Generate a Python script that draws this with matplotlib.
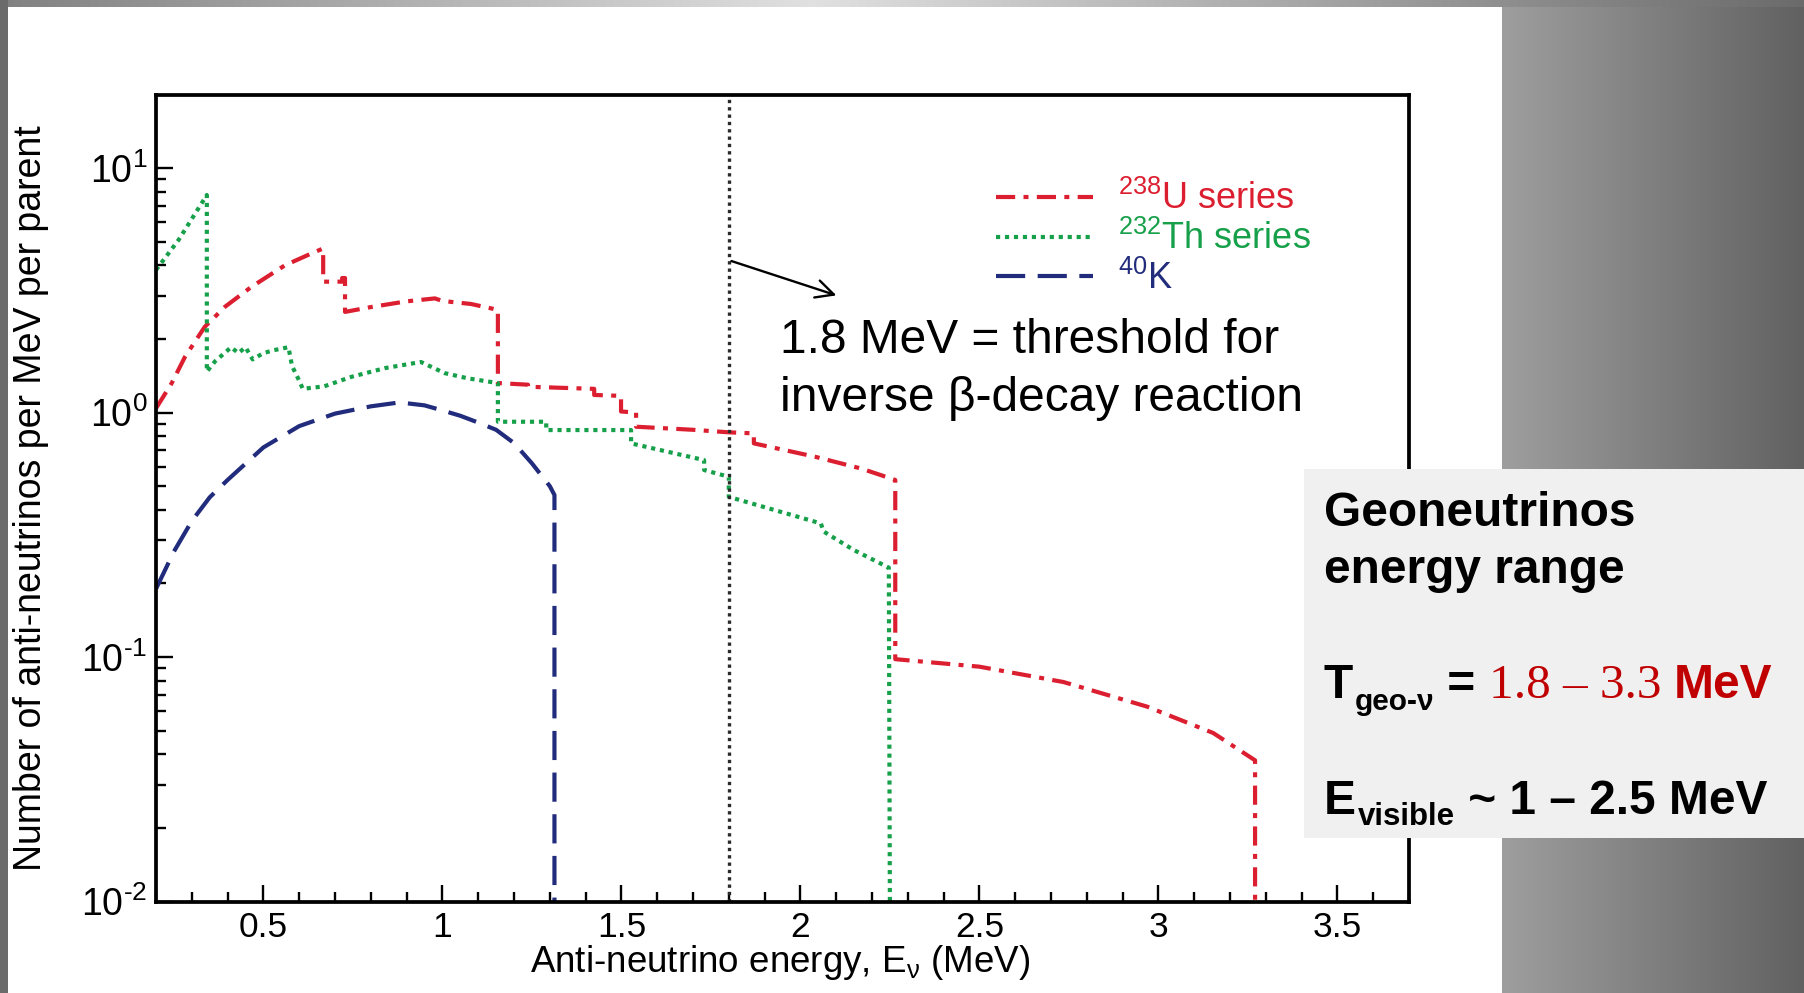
import numpy as np
import matplotlib
matplotlib.use("Agg")
import matplotlib.pyplot as plt
from matplotlib.ticker import MultipleLocator, FormatStrFormatter, FuncFormatter
from matplotlib.lines import Line2D
from matplotlib.patches import Rectangle

plt.rcParams['font.family'] = ['Liberation Sans', 'DejaVu Sans']
plt.rcParams['mathtext.fontset'] = 'custom'
plt.rcParams['mathtext.rm'] = 'Liberation Sans'
plt.rcParams['mathtext.it'] = 'Liberation Sans:italic'
plt.rcParams['mathtext.bf'] = 'Liberation Sans:bold'

# spectra (MeV, anti-neutrinos per MeV per parent)
u_x = [0.2, 0.244, 0.281, 0.336, 0.393, 0.467, 0.56, 0.635, 0.667, 0.667, 0.72, 0.72, 0.728,
       0.728, 0.8, 0.9, 0.979, 1.0, 1.08, 1.155, 1.155, 1.239, 1.239, 1.424, 1.424, 1.499,
       1.499, 1.541, 1.541, 1.7, 1.8, 1.87, 1.87, 2.04, 2.17, 2.265, 2.265, 2.5, 2.735,
       2.968, 3.153, 3.27, 3.27]
u_y = [1.04, 1.32, 1.69, 2.24, 2.71, 3.27, 4.0, 4.48, 4.69, 3.43, 3.43, 3.55, 3.55,
       2.58, 2.7, 2.85, 2.93, 2.86, 2.78, 2.63, 1.32, 1.30, 1.275, 1.25, 1.18, 1.17,
       1.01, 1.0, 0.875, 0.85, 0.83, 0.822, 0.748, 0.66, 0.59, 0.53, 0.098, 0.0913, 0.079,
       0.0627, 0.0489, 0.0378, 0.009]

th_x = [0.2, 0.263, 0.342, 0.342, 0.365, 0.41, 0.43, 0.45, 0.47, 0.5, 0.53, 0.57, 0.58,
        0.6, 0.61, 0.67, 0.746, 0.84, 0.94, 1.006, 1.071, 1.155, 1.155, 1.29, 1.29, 1.527,
        1.527, 1.731, 1.731, 1.8, 1.8, 2.057, 2.065, 2.149, 2.247, 2.25]
th_y = [3.83, 5.08, 7.76, 1.47, 1.62, 1.85, 1.75, 1.85, 1.65, 1.75, 1.8, 1.85, 1.55,
        1.35, 1.25, 1.28, 1.40, 1.52, 1.61, 1.45, 1.38, 1.32, 0.917, 0.917, 0.848, 0.848,
        0.748, 0.639, 0.582, 0.546, 0.452, 0.352, 0.326, 0.274, 0.232, 0.009]

k_x = [0.2, 0.25, 0.3, 0.35, 0.4, 0.5, 0.6, 0.7, 0.8, 0.88, 0.95, 1.0, 1.05, 1.1, 1.15,
       1.2, 1.25, 1.3, 1.313, 1.313]
k_y = [0.19, 0.27, 0.36, 0.45, 0.53, 0.72, 0.88, 0.99, 1.06, 1.10, 1.07, 1.02, 0.97, 0.91,
       0.85, 0.75, 0.62, 0.5, 0.46, 0.009]

threshold = 1.8
series_labels = [r'$^{238}$U series', r'$^{232}$Th series', r'$^{40}$K']

W, H = 1804, 993
fig = plt.figure(figsize=(W / 100, H / 100), dpi=100)

# slide background: grey frame with a gradient, white panel
bg = np.ones((H, W, 3))
cols = np.arange(W)
right = np.clip((cols - 1502) / (W - 1502), 0, 1)
bg[:, :, :] = (0.62 - 0.24 * right)[None, :, None]
top = 0.88 - 0.46 * np.abs(cols - W * 0.45) / (W * 0.55)
bg[:7, :, :] = top[None, :, None]
bg[7:, 8:1502, :] = 1.0
bg[:, :8, :] = 0.42
bga = fig.add_axes([0, 0, 1, 1], zorder=0)
bga.imshow(bg, extent=(0, W, H, 0), aspect='auto')
bga.axis('off')

ax = fig.add_axes([156 / W, 1 - 901.5 / H, (1409 - 156) / W, (901.5 - 95) / H], zorder=1)
ax.set_yscale('log')

red, green, navy = '#dc1f30', '#17a04a', '#222c7c'
lw = 3.0
u_dash, th_dash, k_dash = (4.6, 2.0, 1.2, 2.0), (1, 1.15), (7, 3)
ax.plot(u_x, u_y, color=red, lw=lw, dashes=u_dash)
ax.plot(th_x, th_y, color=green, lw=lw, dashes=th_dash)
ax.plot(k_x, k_y, color=navy, lw=lw, dashes=k_dash)
ax.axvline(threshold, color='#2a2a2a', lw=2.4, dashes=(1, 1.2))

ax.set_xlim(0.2, 3.7)
ax.set_ylim(0.01, 19.9)
ax.xaxis.set_major_locator(MultipleLocator(0.5))
ax.xaxis.set_minor_locator(MultipleLocator(0.1))
ax.xaxis.set_major_formatter(FormatStrFormatter('%g'))
ax.yaxis.set_major_formatter(FuncFormatter(
    lambda v, p: r'$\mathdefault{10^{%s}}$' % ('%d' % round(np.log10(v))).replace('-', '\u2010')))
ax.tick_params(which='both', direction='in', top=False, right=False, width=1.7)
ax.tick_params(which='major', length=12)
ax.tick_params(which='minor', length=7.5)
ax.tick_params(axis='x', labelsize=25.5, pad=7)
ax.tick_params(axis='y', labelsize=27, pad=6)
for s in ax.spines.values():
    s.set_linewidth(2.7)

ax.set_xlabel(r'Anti-neutrino energy, E$_{\mathrm{\nu}}$ (MeV)', fontsize=26.5)
ax.set_ylabel('Number of anti-neutrinos per MeV per parent', fontsize=27)
ax.xaxis.set_label_coords(0.498, -0.052)
ax.yaxis.set_label_coords(-0.085, 0.5)

handles = [Line2D([], [], color=red, lw=lw, dashes=u_dash),
           Line2D([], [], color=green, lw=lw, dashes=th_dash),
           Line2D([], [], color=navy, lw=lw, dashes=k_dash)]
leg = ax.legend(handles, series_labels, loc='upper left', bbox_to_anchor=(0.67, 0.893),
                frameon=False, fontsize=26, handlelength=2.7, handletextpad=0.7,
                labelspacing=0.1, borderpad=0, borderaxespad=0,
                labelcolor=[red, green, navy])

ax.annotate('', xy=(2.108, 2.99), xytext=(threshold, 4.2),
            arrowprops=dict(arrowstyle='->', lw=1.7, color='black', mutation_scale=32))

# overlay in pixel coordinates for slide texts
ov = fig.add_axes([0, 0, 1, 1], zorder=3)
ov.set_xlim(0, W)
ov.set_ylim(H, 0)
ov.axis('off')
ov.patch.set_alpha(0)

ov.text(780, 353, '1.8 MeV = threshold for', fontsize=34.5, va='baseline')
ov.text(780, 411, 'inverse \u03b2-decay reaction', fontsize=34.5, va='baseline')

ov.add_patch(Rectangle((1304, 469), 510, 369, facecolor='#f0f0f0', edgecolor='none'))
fs = 34.5
ov.text(1324, 526, 'Geoneutrinos', fontsize=fs, weight='bold', va='baseline')
ov.text(1324, 583, 'energy range', fontsize=fs, weight='bold', va='baseline')

dark_red = '#c00000'
t1 = ov.text(1324, 698, 'T', fontsize=fs, weight='bold', va='baseline')
t2 = ov.annotate('geo-\u03bd', xy=(1, 0), xycoords=t1, xytext=(1, -6),
                 textcoords='offset points', fontsize=21.5, weight='bold', va='bottom')
t3 = ov.annotate(' = ', xy=(1, 0), xycoords=(t2, t1), fontsize=fs, weight='bold', va='bottom')
t4 = ov.annotate('1.8 \u2013 3.3 ', xy=(1, 0), xycoords=(t3, t1), fontsize=fs + 1,
                 family='Liberation Serif', color=dark_red, va='bottom')
ov.annotate('MeV', xy=(1, 0), xycoords=(t4, t1), fontsize=fs, weight='bold',
            color=dark_red, va='bottom')

e1 = ov.text(1324, 814, 'E', fontsize=fs, weight='bold', va='baseline')
e2 = ov.annotate('visible', xy=(1, 0), xycoords=e1, xytext=(1, -6),
                 textcoords='offset points', fontsize=22.5, weight='bold', va='bottom')
ov.annotate(' ~ 1 \u2013 2.5 MeV', xy=(1, 0), xycoords=(e2, e1), fontsize=fs,
            weight='bold', va='bottom')

fig.savefig('out.png', dpi=100)
